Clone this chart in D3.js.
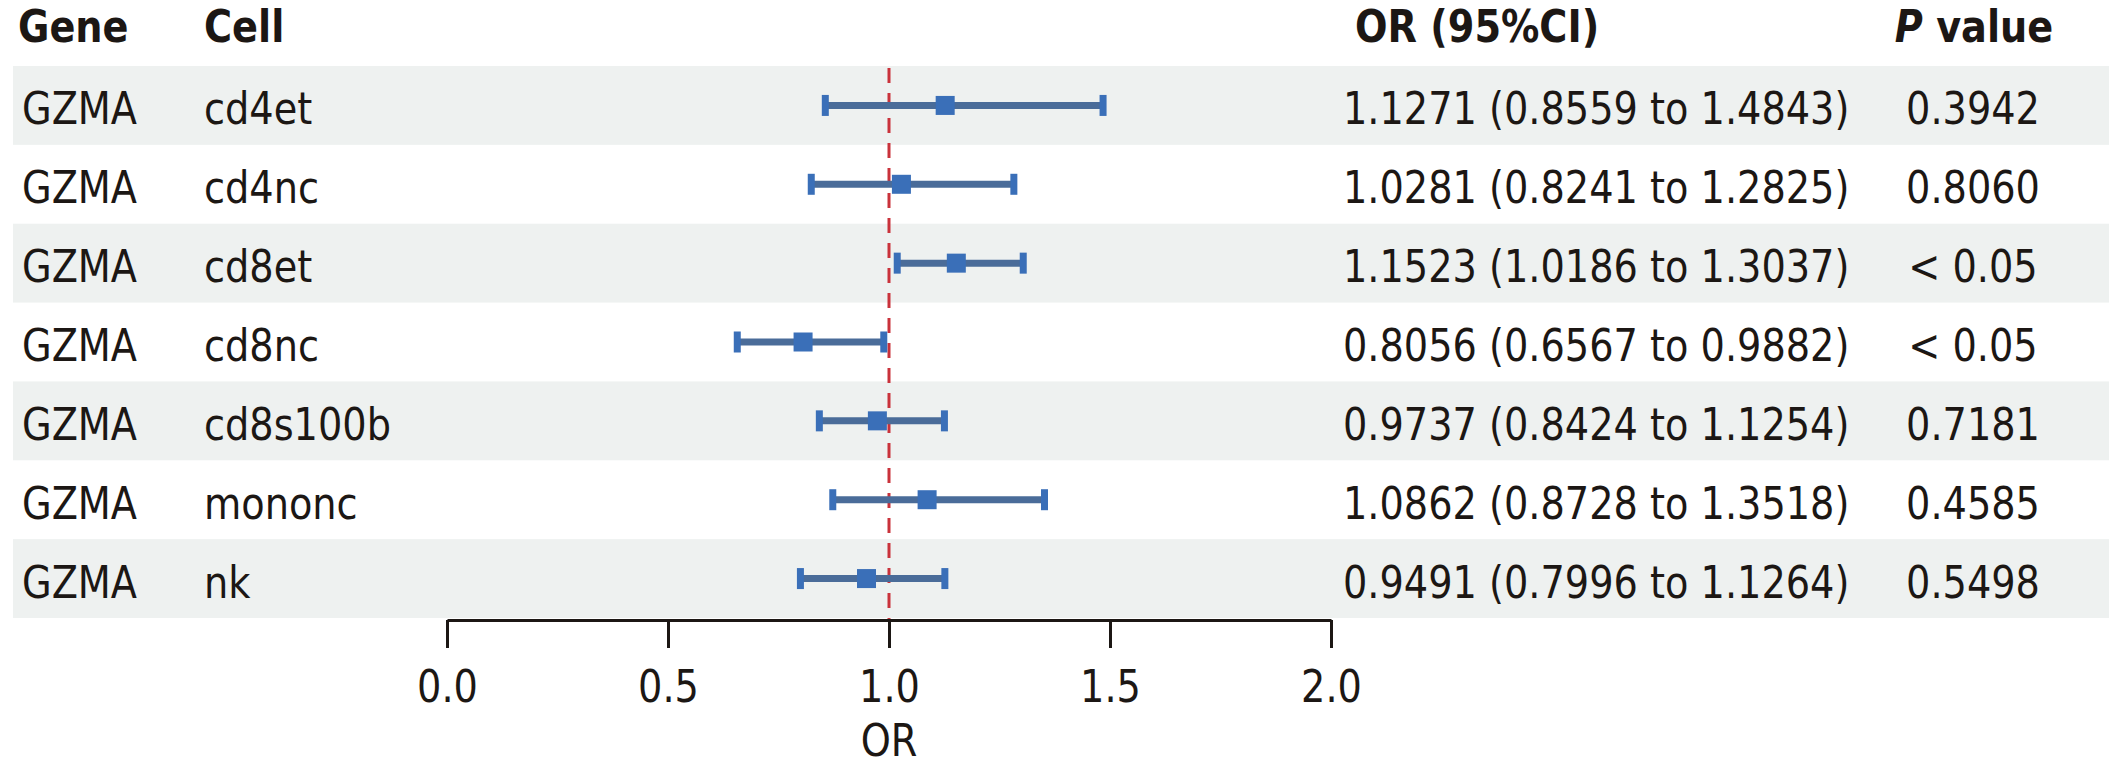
<!DOCTYPE html>
<html>
<head>
<meta charset="utf-8">
<script src="https://cdn.jsdelivr.net/npm/d3@7"></script>
<style>
  body { margin: 0; background: #fff; }
  svg { display: block; }
  text { font-family: "DejaVu Sans", sans-serif; fill: #1c1714; }
</style>
</head>
<body>
<svg id="forest" width="2126" height="768"></svg>
<script>
// forest plot of GZMA odds ratios per cell type

const genes = ['GZMA', 'GZMA', 'GZMA', 'GZMA', 'GZMA', 'GZMA', 'GZMA'];
const cells = ['cd4et', 'cd4nc', 'cd8et', 'cd8nc', 'cd8s100b', 'mononc', 'nk'];
const orValues = [1.1271, 1.0281, 1.1523, 0.8056, 0.9737, 1.0862, 0.9491];
const lowerCI = [0.8559, 0.8241, 1.0186, 0.6567, 0.8424, 0.8728, 0.7996];
const upperCI = [1.4843, 1.2825, 1.3037, 0.9882, 1.1254, 1.3518, 1.1264];
const pValues = ['0.3942', '0.8060', '< 0.05', '< 0.05', '0.7181', '0.4585', '0.5498'];
const xTicks = [0, 0.5, 1.0, 1.5, 2.0];

const fmt = d3.format('.4f');
const sx = 0.87;          // the original font is a bit condensed
const fontSize = 44;

const svg = d3.select('#forest');

const x = d3.scaleLinear().domain([0, 2]).range([447, 1331]);
const y = d3.scaleBand().domain(d3.range(cells.length)).range([66, 618]).padding(0);

function label(g, px, py, str, anchor, weight) {
  return g.append('text')
    .attr('transform', `translate(${px},${py}) scale(${sx},1)`)
    .attr('text-anchor', anchor || 'start')
    .attr('font-size', fontSize)
    .attr('font-weight', weight || 'normal')
    .text(str);
}

// zebra bands
svg.append('g').selectAll('rect')
  .data(d3.range(cells.length).filter(i => i % 2 === 0))
  .enter().append('rect')
  .attr('x', 13).attr('width', 2096)
  .attr('y', i => y(i)).attr('height', y.bandwidth())
  .attr('fill', '#eef1f0');

// header
const head = svg.append('g');
label(head, 18, 42, 'Gene', 'start', 'bold');
label(head, 204, 42, 'Cell', 'start', 'bold');
label(head, 1355, 42, 'OR (95%CI)', 'start', 'bold');
const pv = head.append('text')
  .attr('transform', `translate(1974,42) scale(${sx},1)`)
  .attr('text-anchor', 'middle')
  .attr('font-size', fontSize)
  .attr('font-weight', 'bold');
pv.append('tspan').attr('font-style', 'italic').text('P');
pv.append('tspan').text(' value');

// table columns
const rows = svg.append('g');
d3.range(cells.length).forEach(i => {
  const base = y(i) + y.bandwidth() / 2 + 19;
  label(rows, 22, base, genes[i]);
  label(rows, 204, base, cells[i]);
  label(rows, 1343, base, `${fmt(orValues[i])} (${fmt(lowerCI[i])} to ${fmt(upperCI[i])})`);
  label(rows, 1973, base, pValues[i], 'middle');
});

// reference line at OR = 1
svg.append('line')
  .attr('x1', x(1)).attr('x2', x(1))
  .attr('y1', 68).attr('y2', 620)
  .attr('stroke', '#c9323b').attr('stroke-width', 3)
  .attr('stroke-dasharray', '15,10');

// error bars
const bars = svg.append('g').selectAll('g')
  .data(d3.range(cells.length))
  .enter().append('g')
  .attr('transform', i => `translate(0,${y(i) + y.bandwidth() / 2})`);

bars.append('line')
  .attr('x1', i => x(lowerCI[i])).attr('x2', i => x(upperCI[i]))
  .attr('stroke', '#4a6c99').attr('stroke-width', 7);

bars.selectAll('rect.cap')
  .data(i => [lowerCI[i], upperCI[i]])
  .enter().append('rect')
  .attr('class', 'cap')
  .attr('x', d => x(d) - 3.5).attr('y', -10.5)
  .attr('width', 7).attr('height', 21)
  .attr('fill', '#3a6fb8');

bars.append('rect')
  .attr('x', i => x(orValues[i]) - 9.5).attr('y', -9.5)
  .attr('width', 19).attr('height', 19)
  .attr('fill', '#3a6fb8');

// x axis
const axis = svg.append('g')
  .attr('transform', 'translate(0,620)')
  .call(d3.axisBottom(x).tickValues(xTicks).tickFormat(d3.format('.1f')).tickSize(28).tickSizeOuter(0));

axis.select('.domain').attr('stroke', '#1c1714').attr('stroke-width', 3);
axis.selectAll('.tick line').attr('stroke', '#1c1714').attr('stroke-width', 3);
axis.selectAll('.tick text')
  .attr('y', 82).attr('dy', 0)
  .attr('transform', `scale(${sx},1)`)
  .attr('x', 0)
  .attr('font-family', '"DejaVu Sans", sans-serif')
  .attr('font-size', fontSize)
  .attr('fill', '#1c1714');

label(svg, x(1), 756, 'OR', 'middle');
</script>
</body>
</html>
